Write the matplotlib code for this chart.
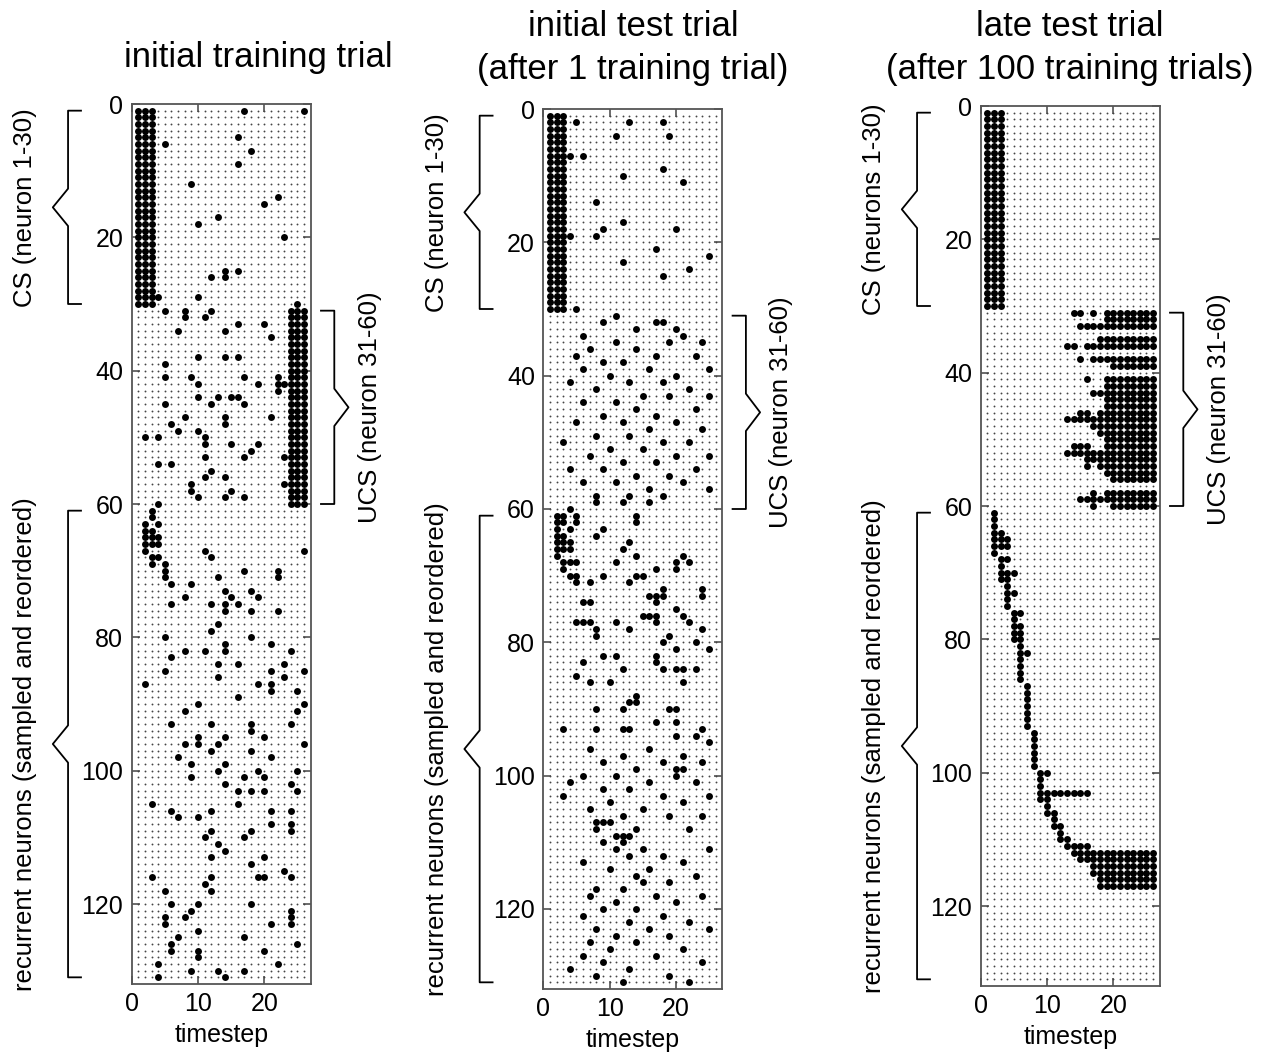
import matplotlib
matplotlib.use("Agg")
import matplotlib.pyplot as plt
import numpy as np

plt.rcParams['font.family'] = ['Liberation Sans', 'DejaVu Sans']

# raster size: timesteps 1..26, neurons 1..131
n_steps = 26
n_neurons = 131

# spikes per neuron, written as "timestep" or "first-last" runs
trial1_spikes = {
    1: "1-3 17 26", 2: "1-3", 3: "1-3", 4: "1-3", 5: "1-3 16", 6: "1-3 5",
    7: "1-3 18", 8: "1-3", 9: "1-3 16", 10: "1-3", 11: "1-3", 12: "1-3 9",
    13: "1-3", 14: "1-3 22", 15: "1-3 20", 16: "1-3", 17: "1-3 13",
    18: "1-3 10", 19: "1-3", 20: "1-3 23", 21: "1-3", 22: "1-3", 23: "1-3",
    24: "1-3", 25: "1-3 14 16", 26: "1-3 12 14", 27: "1-3", 28: "1-3",
    29: "1-4 10", 30: "1-3 25",
    31: "5 8 12 24-26", 32: "8 11 24-26", 33: "16 20 24-26", 34: "7 14 24-26",
    35: "21 24-26", 36: "24-26", 37: "24-26", 38: "10 14 16 24-26",
    39: "5 24-26", 40: "24-26", 41: "5 9 17 22 24-26", 42: "10 19 22-26",
    43: "22 24-26", 44: "10 13 15 16 24-26", 45: "5 12 17 24-26",
    46: "24-26", 47: "8 14 21 24-26", 48: "6 14 24-26", 49: "7 10 24-26",
    50: "2 4 11 24-26", 51: "11 15 19 24-26", 52: "18 24-26",
    53: "11 17 23-26", 54: "4 6 24-26", 55: "12 24-26", 56: "11 14 24-26",
    57: "9 23-26", 58: "9 15 24-26", 59: "10 14 17 24-26", 60: "4 24-26",
    61: "3", 62: "3", 63: "2 4", 64: "2 3", 65: "2-4", 66: "2-4",
    67: "2 11 26", 68: "3 4 12", 69: "3 5", 70: "5 17 22", 71: "5 13 22",
    72: "6 9", 73: "14 18", 74: "8 15 19", 75: "6 12 14 16", 76: "14 18 22",
    78: "13", 79: "12", 80: "5 18", 81: "14 21", 82: "8 11 14 24", 83: "6",
    84: "13 16 23", 85: "5 21 26", 86: "13 23", 87: "2 19 21", 88: "21 25",
    89: "16", 90: "10 26", 91: "8 25", 93: "6 12 18 24", 94: "18",
    95: "10 14 20", 96: "8 10 13 26", 97: "12 18", 98: "7 21", 99: "9 14",
    100: "13 19 25", 101: "9 17 20", 102: "14 24", 103: "16 18 20 25",
    105: "3 16", 106: "6 12 21 24", 107: "7 10", 108: "21 24",
    109: "12 18 24", 110: "11 17", 111: "13", 112: "14", 113: "12 20",
    114: "18", 115: "23", 116: "3 12 19 20 24", 117: "11", 118: "5 12",
    120: "6 10 18", 121: "9 24", 122: "5 8 24", 123: "5 21 24", 124: "10",
    125: "7 17", 126: "6 25", 127: "6 10 20", 128: "10", 129: "4 22",
    130: "9 13 17", 131: "4 14",
}

trial2_spikes = {
    1: "1-3", 2: "1-3 5 13 18", 3: "1-3", 4: "1-3 11 19", 5: "1-3", 6: "1-3",
    7: "1-4 6", 8: "1-3", 9: "1-3 18", 10: "1-3 12", 11: "1-3 21",
    12: "1-3", 13: "1-3", 14: "1-3 8", 15: "1-3", 16: "1-3", 17: "1-3 12",
    18: "1-3 9 20", 19: "1-4 8", 20: "1-3", 21: "1-3 17", 22: "1-3 25",
    23: "1-3 12", 24: "1-3 22", 25: "1-3 18", 26: "1-3", 27: "1-3",
    28: "1-3", 29: "1-3", 30: "1-3 5",
    31: "11", 32: "9 17 18", 33: "14 20", 34: "6 21", 35: "11 19 24",
    36: "7 14", 37: "5 17 23", 38: "9 12", 39: "6 16 25", 40: "10 20",
    41: "4 13 18", 42: "8 22", 43: "15 19 25", 44: "6 11", 45: "14 23",
    46: "9 17", 47: "5 12 20", 48: "16 24", 49: "8 13", 50: "3 18 22",
    51: "10 15", 52: "7 20 25", 53: "12 17", 54: "4 9 23", 55: "14 19",
    56: "6 11 21", 57: "16 25", 58: "8 13 18",
    59: "8 12 16", 60: "4", 61: "2 3 5 14", 62: "2 3 5 14", 63: "2 4 9",
    64: "2 3 8", 65: "2-4 13", 66: "2-4 12", 67: "2 14 21",
    68: "3-5 11 20 22", 69: "3 17 20", 70: "4 5 9 14 15", 71: "5 7 13",
    72: "18 24", 73: "16-18 24", 74: "6 7 17", 75: "20", 76: "15-17 21",
    77: "5-7 11 17 22", 78: "8 13 24", 79: "8 19", 80: "18 23", 81: "20 25",
    82: "9 11 17", 83: "6 17", 84: "12 18 20 21 23", 85: "5", 86: "7 10 21",
    88: "14", 89: "13 14", 90: "8 12 19 20", 92: "17 20", 93: "3 8 12 13 24",
    94: "20 23", 95: "25",
    96: "7 16", 97: "12 21", 98: "9 18 24", 99: "14 20 21", 100: "6 11 20",
    101: "4 16 23", 102: "9 13", 103: "3 18 25", 104: "10 21", 105: "7 15",
    106: "12 19 24", 107: "8 9 10", 108: "8 14 22", 109: "11 12 13",
    110: "9 12", 111: "11 15 25", 112: "13 18", 113: "6 21", 114: "10 16",
    115: "14 23", 116: "15 19", 117: "8 12", 118: "7 17 24", 119: "11 20",
    120: "9 14", 121: "6 18", 122: "13 22", 123: "8 16 25", 124: "11 19",
    125: "7 14", 126: "10 21", 127: "6 17", 128: "9 24", 129: "4 13",
    130: "8 19", 131: "12 22",
}

trial3_spikes = {
    1: "1-3", 2: "1-3", 3: "1-3", 4: "1-3", 5: "1-3", 6: "1-3", 7: "1-3",
    8: "1-3", 9: "1-3", 10: "1-3", 11: "1-3", 12: "1-3", 13: "1-3",
    14: "1-3", 15: "1-3", 16: "1-3", 17: "1-3", 18: "1-3", 19: "1-3",
    20: "1-3", 21: "1-3", 22: "1-3", 23: "1-3", 24: "1-3", 25: "1-3",
    26: "1-3", 27: "1-3", 28: "1-3", 29: "1-3", 30: "1-3",
    31: "14 15 17 19-26", 32: "19-26", 33: "15-26", 35: "18-26",
    36: "13 14 16-26", 38: "15 17-26", 39: "20-26", 41: "16 19-26",
    42: "19-26", 43: "17-26", 44: "19-26", 45: "19-26", 46: "15 16 18-26",
    47: "13-26", 48: "17-26", 49: "18-26", 50: "19-26", 51: "14-16 19-26",
    52: "13-26", 53: "16-26", 54: "16 18-26", 55: "19-26", 56: "20-26",
    58: "17 19-26", 59: "15-26", 60: "17 20-26",
    61: "2", 62: "2", 63: "2", 64: "2 3", 65: "2-4", 66: "2-4", 67: "2",
    68: "3 4", 69: "3", 70: "3-5", 71: "3 4", 72: "4", 73: "4 5", 74: "4",
    75: "4", 76: "5 6", 77: "5", 78: "5 6", 79: "5 6", 80: "5 6", 81: "6",
    82: "6 7", 83: "6", 84: "6", 85: "6", 86: "6", 87: "7", 88: "7",
    89: "7", 90: "7", 91: "7", 92: "7", 93: "7", 94: "8", 95: "8", 96: "8",
    97: "8", 98: "8", 99: "8", 100: "9 10", 101: "9", 102: "9",
    103: "9-16", 104: "9 10", 105: "10", 106: "10 11", 107: "11", 108: "11 12",
    109: "12", 110: "12 13", 111: "13-16", 112: "14-26", 113: "15-26",
    114: "17-26", 115: "17-26", 116: "18-26", 117: "18-26",
}

title_lines = [["initial training trial"],
               ["initial test trial", "(after 1 training trial)"],
               ["late test trial", "(after 100 training trials)"]]
cs_labels = ["CS (neuron 1-30)", "CS (neuron 1-30)", "CS (neurons 1-30)"]
ucs_label = "UCS (neuron 31-60)"
rec_label = "recurrent neurons (sampled and reordered)"

# brace ranges in neuron units
cs_range = (1, 30)
ucs_range = (31, 60)
rec_range = (61, 131)


def parse(spikes):
    ts, ns = [], []
    for n, txt in spikes.items():
        for tok in txt.split():
            if '-' in tok:
                a, b = tok.split('-')
                for t in range(int(a), int(b) + 1):
                    ts.append(t)
                    ns.append(n)
            else:
                ts.append(int(tok))
                ns.append(n)
    return ts, ns


def brace(ax, y0, y1, x_line, x_end, x_tip):
    # vertical bracket with a pointed middle, drawn in data coords
    mid = (y0 + y1) / 2.0
    k = 2.8
    xs = [x_end, x_line, x_line, x_tip, x_line, x_line, x_end]
    ys = [y0, y0, mid - k, mid, mid + k, y1, y1]
    ax.plot(xs, ys, color='black', lw=1.3, clip_on=False)


W, H = 1281, 1055
fig = plt.figure(figsize=(W / 100, H / 100), dpi=100)

# pixel boxes: left, top
boxes = [(131.7, 104), (543.3, 109), (980.7, 106)]
ax_w, ax_h = 179, 880
# title line centres in pixels (x, [y of each line])
title_pos = [(258, [57]), (633, [27, 70]), (1070, [27, 70])]

grid_t, grid_n = np.meshgrid(np.arange(1, n_steps + 1), np.arange(1, n_neurons + 1))

all_spikes = [trial1_spikes, trial2_spikes, trial3_spikes]

for i in range(3):
    left, top = boxes[i]
    ax = fig.add_axes([left / W, (H - top - ax_h) / H, ax_w / W, ax_h / H])

    # background grid of tiny dots
    ax.scatter(grid_t.ravel(), grid_n.ravel(), s=1.8, c='#444444', lw=0, zorder=1)
    ts, ns = parse(all_spikes[i])
    ax.scatter(ts, ns, s=25, c='black', lw=0, zorder=2)

    ax.set_xlim(0, 27)
    ax.set_ylim(132, 0)
    ax.set_xticks([0, 10, 20])
    ax.set_yticks([0, 20, 40, 60, 80, 100, 120])
    ax.tick_params(direction='in', length=6, width=1.1, top=True, right=True,
                   labelsize=18, pad=6, color='#444444')
    for sp in ax.spines.values():
        sp.set_color('#555555')
        sp.set_linewidth(1.3)
    ax.set_xlabel('timestep', fontsize=18, labelpad=5)

    # brackets and group labels
    brace(ax, cs_range[0], cs_range[1], -9.6, -7.65, -11.9)
    brace(ax, rec_range[0], rec_range[1], -9.6, -7.65, -11.9)
    brace(ax, ucs_range[0], ucs_range[1], 30.56, 28.55, 32.7)
    ax.text(-16.1, sum(cs_range) / 2.0, cs_labels[i], rotation=90, fontsize=18.5,
            ha='center', va='center', clip_on=False)
    ax.text(-16.1, sum(rec_range) / 2.0, rec_label, rotation=90, fontsize=18.5,
            ha='center', va='center', clip_on=False)
    ax.text(35.9, sum(ucs_range) / 2.0, ucs_label, rotation=90, fontsize=18.5,
            ha='center', va='center', clip_on=False)

    tx, tys = title_pos[i]
    for line, ty in zip(title_lines[i], tys):
        fig.text(tx / W, 1 - ty / H, line, fontsize=25, ha='center', va='center')

fig.savefig('out.png', dpi=100)
